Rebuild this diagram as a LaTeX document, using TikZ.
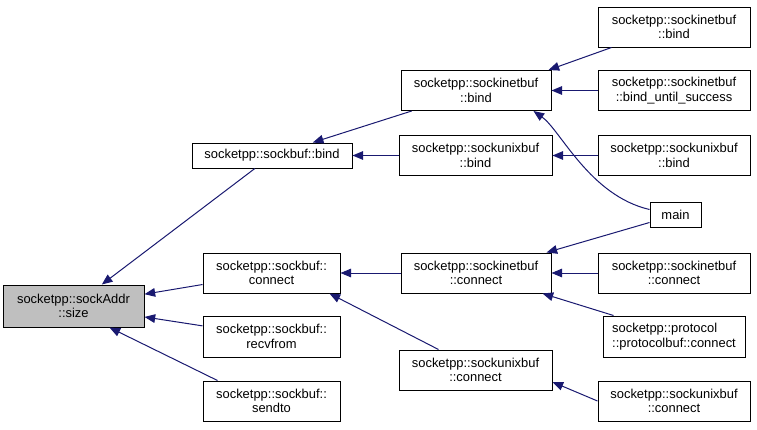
\documentclass[tikz,border=0pt]{standalone}
\usepackage{fontspec}
\setmainfont{Liberation Sans}
\usepackage{tikz}
\usetikzlibrary{arrows.meta, calc}
\definecolor{callblue}{HTML}{191970}
\definecolor{curgray}{HTML}{BFBFBF}
\tikzset{fn/.style = {draw, rectangle, line width=0.75pt, align=center, inner sep=0pt, minimum width=112.5pt, minimum height=30pt, font=\fontsize{9.7}{11}\selectfont}}
\tikzset{fnleft/.style = {fn, align=left}}
\tikzset{current/.style = {fn, fill=curgray}}
\tikzset{call/.style = {callblue, line width=0.75pt}}

\begin{document}
\begin{tikzpicture}[x=0.75pt, y=-0.75pt, >={Triangle[length=8pt, width=6.5pt]}]
  \useasboundingbox (0,0) rectangle (757,429);
  \node [current, minimum width=105.75pt, minimum height=31.5pt] (sz) at (73.5,306) {socketpp::sockAddr\\::size};

  \node [fn, minimum width=120pt, minimum height=18.75pt] (sb) at (272,155.5) {socketpp::sockbuf::bind};
  \node [fn, minimum width=102.75pt] (sc) at (271.5,273) {socketpp::sockbuf::\\connect};
  \node [fn, minimum width=102.75pt, minimum height=30.75pt] (sr) at (271.5,336.5) {socketpp::sockbuf::\\recvfrom};
  \node [fn, minimum width=102.75pt] (ss) at (271.5,401) {socketpp::sockbuf::\\sendto};

  \node [fn] (ib) at (476,90.5) {socketpp::sockinetbuf\\::bind};
  \node [fn, minimum width=114.75pt] (ub) at (475.5,155.5) {socketpp::sockunixbuf\\::bind};
  \node [fn] (ic) at (476,273) {socketpp::sockinetbuf\\::connect};
  \node [fn, minimum width=114.75pt] (uc) at (475.5,370) {socketpp::sockunixbuf\\::connect};

  \node [fn, minimum width=114pt] (ibr) at (674,27) {socketpp::sockinetbuf\\::bind};
  \node [fn, minimum width=114pt] (ibu) at (674,90.5) {socketpp::sockinetbuf\\::bind\_until\_success};
  \node [fn, minimum width=114pt] (ubr) at (674,155.5) {socketpp::sockunixbuf\\::bind};
  \node [fn, minimum width=38.25pt, minimum height=18.75pt] (mn) at (675.5,214.5) {main};
  \node [fn, minimum width=114pt] (icr) at (674,273) {socketpp::sockinetbuf\\::connect};
  \node [fnleft, minimum width=106.5pt, minimum height=30.75pt] (pc) at (674,336.5) {socketpp::protocol\\::protocolbuf::connect};
  \node [fn, minimum width=114pt] (ucr) at (674,401) {socketpp::sockunixbuf\\::connect};

  % calls into sockAddr::size
  \path[call, ->] (sb) edge (sz);
  \path[call, ->] (sc) edge (sz);
  \path[call, ->] (sr) edge (sz);
  \path[call, ->] ($(ss.north west)+(15,0)$) edge ($(sz.south)+(36,0)$);

  % second column
  \path[call, ->] (ib) edge (sb);
  \path[call, ->] (ub) edge (sb);
  \path[call, ->] (ic) edge (sc);
  \path[call, ->] ($(uc.north west)+(40,0)$) edge ($(sc.south east)+(-11,0)$);

  % third column
  \path[call, ->] ($(ibr.south west)+(14,0)$) edge ($(ib.north east)+(-3,0)$);
  \path[call, ->] (ibu) edge (ib);
  \path[call, ->] (ubr) edge (ub);
  \draw[call, ->] ($(mn.west)+(0,-5)$) .. controls ($(mn.west)+(-60,-19)$) and ($(ib.south east)+(9,19)$) .. ($(ib.south east)+(-18,0)$);
  \path[call, ->] ($(mn.west)+(0,8)$) edge ($(ic.north east)+(-5,0)$);
  \path[call, ->] (icr) edge (ic);
  \path[call, ->] ($(pc.north west)+(11,0)$) edge ($(ic.south east)+(-9,0)$);
  \path[call, ->] (ucr.west) edge ($(uc.east)+(0,12)$);
\end{tikzpicture}
\end{document}
